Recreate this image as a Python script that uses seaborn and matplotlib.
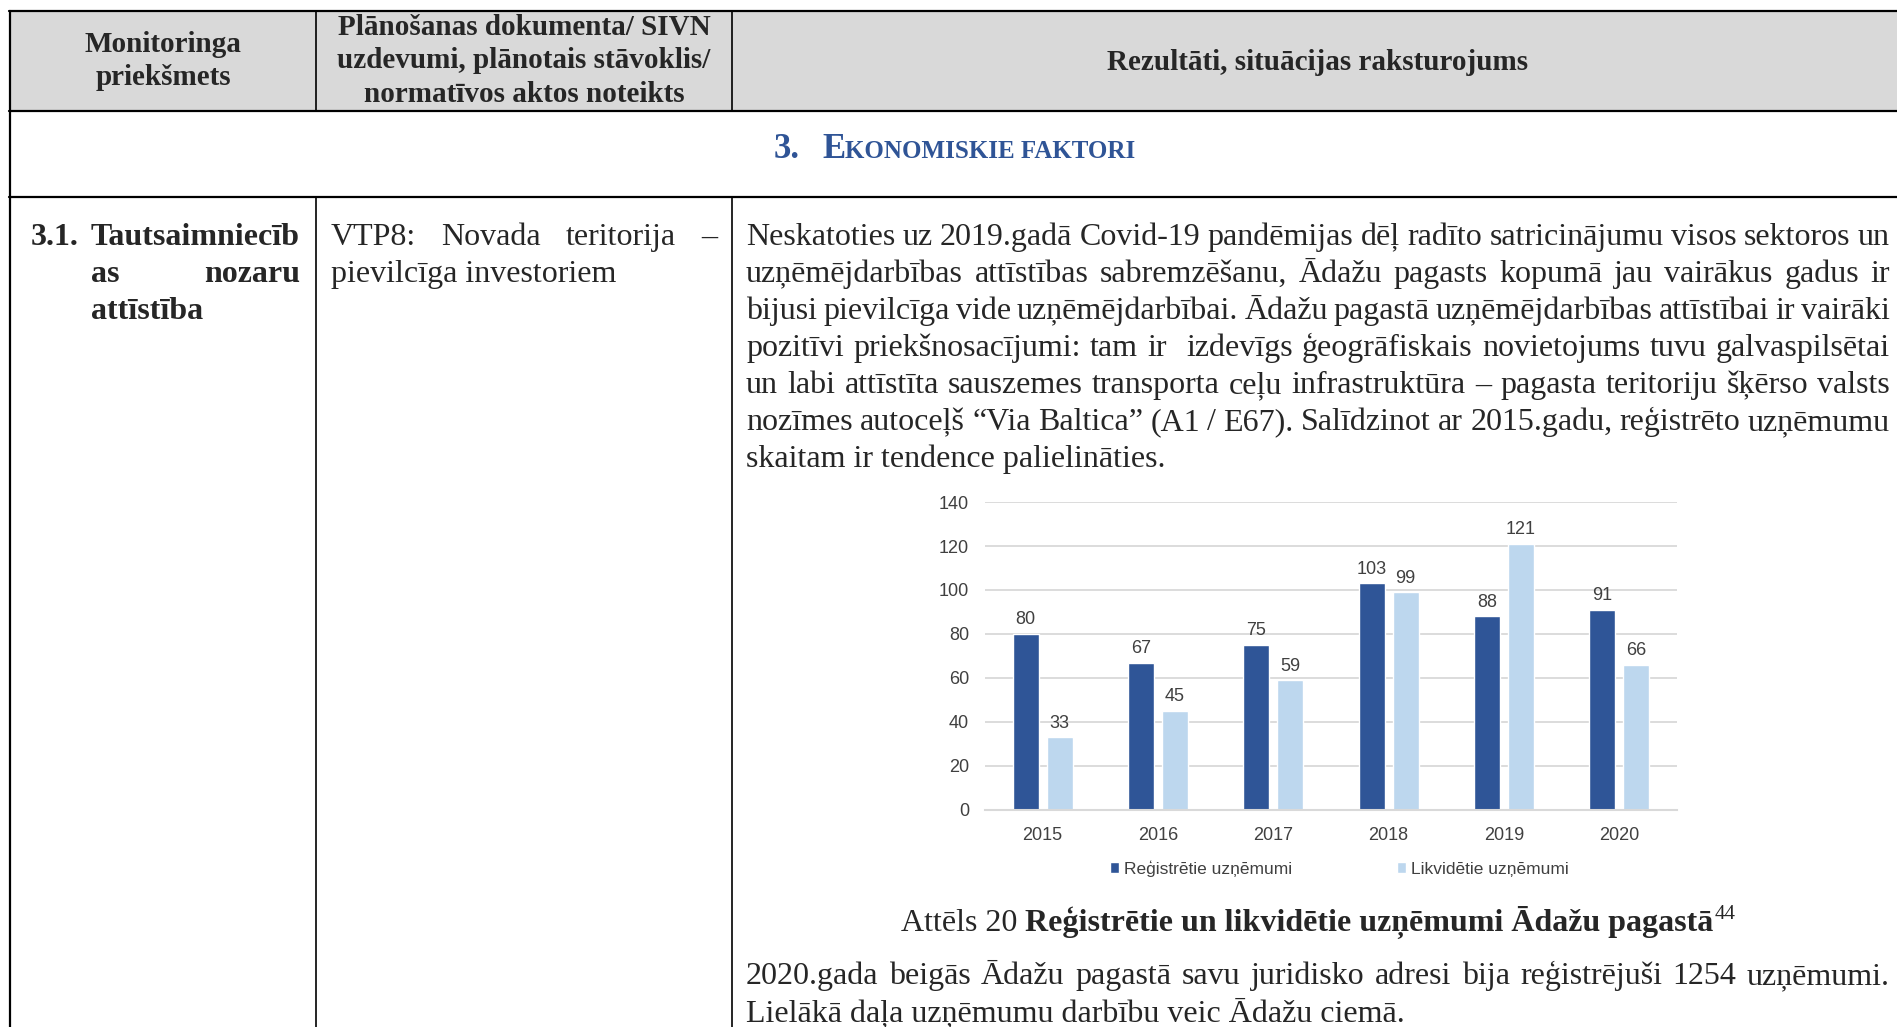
import matplotlib
matplotlib.use('Agg')
import matplotlib.pyplot as plt
import seaborn as sns
import pandas as pd

# chart data
years = ['2015', '2016', '2017', '2018', '2019', '2020']
registreti = [80, 67, 75, 103, 88, 91]
likvideti = [33, 45, 59, 99, 121, 66]
series_names = ['Reģistrētie uzņēmumi', 'Likvidētie uzņēmumi']
bar_colors = ['#2F5597', '#BDD7EE']
y_ticks = [0, 20, 40, 60, 80, 100, 120, 140]

# page text
header_1 = 'Monitoringa\npriekšmets'
header_2 = 'Plānošanas dokumenta/ SIVN\nuzdevumi, plānotais stāvoklis/\nnormatīvos aktos noteikts'
header_3 = 'Rezultāti, situācijas raksturojums'
section_no = '3.'
section_cap = 'E'
section_rest = 'KONOMISKIE FAKTORI'
col1_lines = ['Tautsaimniecīb', 'as nozaru', 'attīstība']
col2_lines = ['VTP8:  Novada  teritorija  –', 'pievilcīga investoriem']
body_lines = [
    'Neskatoties uz 2019.gadā Covid-19 pandēmijas dēļ radīto satricinājumu visos sektoros un',
    'uzņēmējdarbības attīstības sabremzēšanu, Ādažu pagasts kopumā jau vairākus gadus ir',
    'bijusi pievilcīga vide uzņēmējdarbībai. Ādažu pagastā uzņēmējdarbības attīstībai ir vairāki',
    'pozitīvi priekšnosacījumi: tam ir  izdevīgs ģeogrāfiskais novietojums tuvu galvaspilsētai',
    'un labi attīstīta sauszemes transporta ceļu infrastruktūra – pagasta teritoriju šķērso valsts',
    'nozīmes autoceļš “Via Baltica” (A1 / E67). Salīdzinot ar 2015.gadu, reģistrēto uzņēmumu',
    'skaitam ir tendence palielināties.',
]
caption_plain = 'Attēls 20'
caption_bold = 'Reģistrētie un likvidētie uzņēmumi Ādažu pagastā'
caption_note = '44'
tail_lines = [
    '2020.gada beigās Ādažu pagastā savu juridisko adresi bija reģistrējuši 1254 uzņēmumi.',
    'Lielākā daļa uzņēmumu darbību veic Ādažu ciemā.',
]

W, H = 1897, 1027
sns.set_style('white')
plt.rcParams['font.family'] = ['Liberation Serif', 'DejaVu Serif']
chart_font = ['Liberation Sans', 'DejaVu Sans']
FS = 23

fig = plt.figure(figsize=(W / 100, H / 100), dpi=100)
page = fig.add_axes([0, 0, 1, 1])
page.set_xlim(0, W)
page.set_ylim(H, 0)
page.axis('off')
renderer = fig.canvas.get_renderer()


def text_w(s, **kw):
    t = page.text(0, 0, s, **kw)
    w = t.get_window_extent(renderer).width
    t.remove()
    return w


def put_line(s, x0, y, x1=None, **kw):
    words = s.split(' ')
    if x1 is None or len(words) == 1:
        page.text(x0, y, s, va='baseline', ha='left', **kw)
        return
    ws = [text_w(w, **kw) if w else 0 for w in words]
    gap = (x1 - x0 - sum(ws)) / (len(words) - 1)
    x = x0
    for w, wd in zip(words, ws):
        if w:
            page.text(x, y, w, va='baseline', ha='left', **kw)
        x += wd + gap


# table frame
page.fill_between([10, W], 11, 111, color='#D9D9D9', lw=0)
for y in (11, 111, 197):
    page.plot([9, W], [y, y], color='black', lw=1.6)
page.plot([10, 10], [11, H], color='black', lw=1.6)
for x in (316, 732):
    page.plot([x, x], [11, 111], color='black', lw=1.2)
    page.plot([x, x], [197, H], color='black', lw=1.2)

# header
hkw = dict(fontsize=21, fontweight='bold', ha='center', va='center', linespacing=1.32)
page.text(163, 61, header_1, **hkw)
page.text(524, 61, header_2, **hkw)
page.text(1318, 62, header_3, **hkw)

# section title
blue = '#2F5496'
page.text(774, 158, section_no, fontsize=25, fontweight='bold', color=blue, va='baseline')
page.text(822, 158, section_cap, fontsize=25, fontweight='bold', color=blue, va='baseline')
xr = 822 + text_w(section_cap, fontsize=25, fontweight='bold')
page.text(xr, 158, section_rest, fontsize=18, fontweight='bold', color=blue, va='baseline')

base = [245 + 37 * i for i in range(7)]
bkw = dict(fontsize=FS)

# column 1 and 2
page.text(31, base[0], '3.1.', fontsize=FS, fontweight='bold', va='baseline')
put_line(col1_lines[0], 91, base[0], 300, fontsize=FS, fontweight='bold')
put_line(col1_lines[1], 91, base[1], 300, fontsize=FS, fontweight='bold')
put_line(col1_lines[2], 91, base[2], None, fontsize=FS, fontweight='bold')
put_line(col2_lines[0], 331, base[0], 717, **bkw)
put_line(col2_lines[1], 331, base[1], None, **bkw)

# body text
for i, s in enumerate(body_lines):
    put_line(s, 746, base[i], 1890 if i < len(body_lines) - 1 else None, **bkw)

# caption
sp = text_w('a a', **bkw) - text_w('aa', **bkw)
x = 901
page.text(x, 931, caption_plain, va='baseline', **bkw)
x += text_w(caption_plain, **bkw) + sp
page.text(x, 931, caption_bold, va='baseline', fontweight='bold', **bkw)
x += text_w(caption_bold, fontweight='bold', **bkw) + 1
page.text(x, 919, caption_note, va='baseline', fontsize=15)

put_line(tail_lines[0], 746, 984, 1890, **bkw)
put_line(tail_lines[1], 746, 1021, None, **bkw)

# chart
ax = fig.add_axes([985 / W, 1 - 810 / H, (1677 - 985) / W, (810 - 502) / H])
ax.patch.set_alpha(0)
df = pd.DataFrame({
    'gads': years * 2,
    'skaits': registreti + likvideti,
    'veids': [series_names[0]] * len(years) + [series_names[1]] * len(years),
})
sns.barplot(data=df, x='gads', y='skaits', hue='veids', palette=bar_colors,
            saturation=1, width=0.59, gap=0.235, ax=ax)
ax.set_xlim(-0.5, len(years) - 0.5)
ax.set_ylim(0, 140)
ax.set_yticks(y_ticks)
ax.grid(axis='y', color='#D9D9D9', lw=1.3)
ax.set_axisbelow(True)
for s in ['top', 'right', 'left']:
    ax.spines[s].set_visible(False)
ax.spines['bottom'].set_color('#D9D9D9')
ax.spines['bottom'].set_linewidth(1.5)
ax.set_xlabel('')
ax.set_ylabel('')
ax.tick_params(axis='y', length=0, pad=11.5, labelsize=13, labelcolor='#404040')
ax.tick_params(axis='x', length=0, pad=12, labelsize=13, labelcolor='#404040')
for lab in ax.get_xticklabels() + ax.get_yticklabels():
    lab.set_family(chart_font)
for c in ax.containers:
    ax.bar_label(c, padding=4, fontsize=13, color='#404040', family=chart_font)
sns.move_legend(ax, 'center', bbox_to_anchor=(0.512, -0.19), ncol=2, frameon=False,
                title=None, columnspacing=6.0, handlelength=0.55, handleheight=0.55,
                handletextpad=0.3, prop={'family': chart_font, 'size': 12.5})
for t in ax.get_legend().get_texts():
    t.set_color('#404040')

fig.savefig('out.png', dpi=100)
